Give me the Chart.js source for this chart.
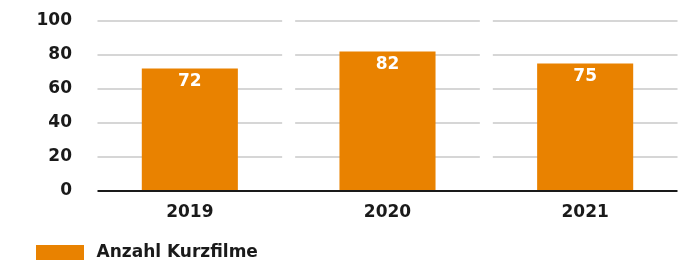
<!DOCTYPE html>
<html>
<head>
<meta charset="utf-8">
<script src="https://cdn.jsdelivr.net/npm/chart.js@4.4.1/dist/chart.umd.min.js"></script>
<style>
  html, body { margin: 0; padding: 0; background: #fff; }
</style>
</head>
<body>
<canvas id="myChart" width="684" height="267"></canvas>
<script>
// data
const years = ['2019', '2020', '2021'];
const kurzfilme = [72, 82, 75];
const yTicks = [0, 20, 40, 60, 80, 100];
const seriesName = 'Anzahl Kurzfilme';

const orange = '#e98200';
const ink = '#1a1a1a';
const fontFam = "'DejaVu Sans', sans-serif";

// grid lines split per category, with a small gap between the columns
const splitGrid = {
  id: 'splitGrid',
  afterLayout(chart) {
    // push the legend row down a bit, like the original
    chart.legend.top += 7;
    chart.legend.bottom += 7;
  },
  beforeDatasetsDraw(chart) {
    const ctx = chart.ctx;
    const x = chart.scales.x, y = chart.scales.y;
    const cat = x.width / years.length;
    const gap = 6.5;
    ctx.save();
    ctx.strokeStyle = '#c8c8c8';
    ctx.lineWidth = 1.5;
    yTicks.forEach(v => {
      if (v === 0) return;
      const py = y.getPixelForValue(v);
      years.forEach((c, i) => {
        const cx = x.getPixelForValue(i);
        ctx.beginPath();
        ctx.moveTo(cx - cat / 2 + gap, py);
        ctx.lineTo(cx + cat / 2 - gap, py);
        ctx.stroke();
      });
    });
    ctx.restore();
  },
  afterDatasetsDraw(chart) {
    const ctx = chart.ctx;
    const x = chart.scales.x, y = chart.scales.y;
    const cat = x.width / years.length;
    const py = y.getPixelForValue(0);
    ctx.save();
    ctx.strokeStyle = ink;
    ctx.lineWidth = 2;
    ctx.beginPath();
    ctx.moveTo(x.getPixelForValue(0) - cat / 2 + 6.5, py);
    ctx.lineTo(x.getPixelForValue(years.length - 1) + cat / 2 - 6.5, py);
    ctx.stroke();

    // value labels inside the bars
    ctx.fillStyle = '#fff';
    ctx.font = 'bold 17px ' + fontFam;
    ctx.textAlign = 'center';
    ctx.textBaseline = 'middle';
    chart.getDatasetMeta(0).data.forEach((bar, i) => {
      ctx.fillText(String(kurzfilme[i]), bar.x, bar.y + 13);
    });
    ctx.restore();
  }
};

const ctx = document.getElementById('myChart');
const myChart = new Chart(ctx, {
  type: 'bar',
  data: {
    labels: years,
    datasets: [{
      label: seriesName,
      data: kurzfilme,
      backgroundColor: orange,
      borderWidth: 0,
      categoryPercentage: 1,
      barPercentage: 0.486
    }]
  },
  options: {
    responsive: false,
    animation: false,
    layout: { autoPadding: false, padding: { top: 21, left: 29, right: 0, bottom: 0 } },
    scales: {
      x: {
        afterFit: s => { s.height = 40; },
        grid: { display: false, drawTicks: false },
        border: { display: false },
        ticks: { color: ink, font: { family: fontFam, size: 17, weight: 'bold' }, padding: 11 }
      },
      y: {
        min: 0,
        max: 100,
        afterBuildTicks: s => { s.ticks = yTicks.map(v => ({ value: v })); },
        // fixed width; drop the label padding that chart.js adds on top
        afterFit: s => { s.width = 62; s.paddingTop = 0; s.paddingBottom = 0; },
        grid: { display: false, drawTicks: false },
        border: { display: false },
        ticks: { color: ink, font: { family: fontFam, size: 17, weight: 'bold' }, padding: 19 }
      }
    },
    plugins: {
      tooltip: { enabled: false },
      legend: {
        position: 'bottom',
        align: 'start',
        labels: {
          color: ink,
          boxWidth: 56,
          boxHeight: 23,
          padding: 3,
          font: { family: fontFam, size: 17, weight: 'bold' },
          // white frame trims the swatch to 48x15 and opens the gap to the text
          generateLabels: chart => Chart.defaults.plugins.legend.labels.generateLabels(chart)
            .map(l => Object.assign(l, { lineWidth: 8, strokeStyle: '#fff' }))
        }
      }
    }
  },
  plugins: [splitGrid]
});
</script>
</body>
</html>
